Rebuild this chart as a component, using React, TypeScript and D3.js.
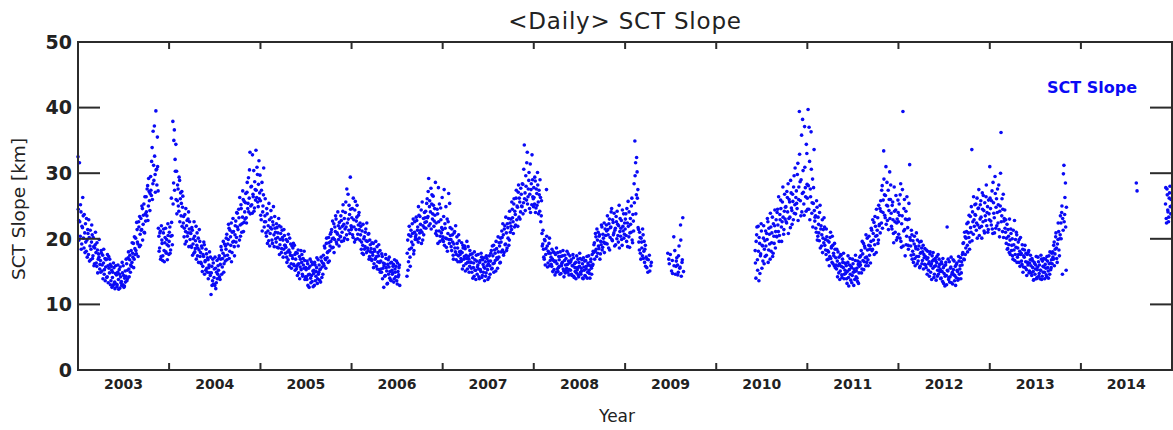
import React from "react";
import * as d3 from "d3";

// ---- Data: SCT Slope [km]. Each segment = start date + readings every 3 days ----
const STEP_DAYS = 3;

const sct2003 = [32.5, 22.8, 31.6, 20.4, 24.1, 19.2, 21.7, 23.5, 18.6, 20.9,
  22.3, 18.1, 19.8, 21.4, 17.6, 20.2, 18.9, 16.8, 19.5, 20.6,
  17.4, 18.8, 16.2, 19.1, 17.9, 15.8, 18.3, 16.9, 17.2, 15.4,
  16.7, 18.2, 15.1, 17.5, 16.3, 14.6, 17.0, 15.7, 16.9, 14.2, 15.9, 17.3, 14.8, 16.1,
  13.6, 15.2, 14.1, 12.9, 15.6, 13.4, 14.7, 13.1, 12.7, 14.9, 13.8, 15.3, 12.5, 14.2, 13.5, 16.4, 13.0, 14.4, 12.8, 15.1,
  14.3, 16.2, 13.9, 17.1, 15.4, 16.8, 14.9,
  18.2, 16.4, 17.8, 19.3, 16.9, 18.5,
  20.1, 17.7, 21.4, 19.2, 22.6, 18.8, 20.7,
  23.1, 21.4, 24.6, 22.2, 25.3, 20.9, 23.8,
  26.4, 23.5, 28.1, 25.0, 27.2, 24.3,
  29.5, 26.6, 33.9, 28.4, 31.2, 37.2, 29.8, 39.5,
  30.6, 35.5, 27.3,
  20.4, 18.6, 21.2, 17.3, 19.8, 16.7, 20.9, 18.2, 19.4, 21.6, 17.8, 19.1, 22.3, 18.9];
const sct2003b = [24.5, 19.8, 22.6, 25.2, 18.4, 21.9, 26.3, 20.1, 23.7, 17.9,
  19.5, 23.1, 17.2, 20.8, 22.9, 16.6, 21.3, 18.4, 22.1, 17.0,
  20.2, 15.9, 18.6, 21.0, 16.3, 19.4, 14.8, 17.7, 19.9, 16.1,
  14.9, 17.8, 16.0, 13.9, 18.4, 15.3, 13.6, 16.8, 14.1, 17.6, 13.3, 15.5, 16.9, 13.0,
  15.8, 12.6, 14.9, 16.3, 13.2, 12.4, 15.9, 14.5, 13.0, 16.0, 12.3, 14.6, 15.7, 13.3, 12.9, 14.8, 15.9, 12.6, 14.0, 13.4,
  16.9, 13.6, 15.2, 18.0, 14.2, 17.5, 16.0,
  15.8, 19.4, 17.2, 15.6, 20.3, 17.6,
  18.2, 22.5, 19.5, 17.3, 21.8, 23.4, 19.0,
  21.3, 25.0, 19.8, 23.6, 21.0, 26.4, 22.7,
  24.1, 27.6, 22.8, 29.2, 25.8, 26.9,
  27.4, 31.8, 26.0, 36.4, 28.9, 32.6, 27.1, 30.5,
  28.2, 31.0, 21.6,
  18.1, 20.9, 16.9, 22.0, 19.3, 17.4, 21.5, 16.5, 20.2, 18.0, 19.9, 16.8, 20.5, 17.6];

const sct2004 = [19.6, 21.8, 18.3, 26.2, 20.5,
  37.9, 28.5, 36.6, 32.1, 34.4,
  30.3, 25.8, 27.6, 24.2, 28.9, 26.1, 23.5, 27.2, 24.8,
  22.4, 20.3, 23.7, 21.1, 19.6, 22.8, 20.9, 24.1, 21.5, 19.9,
  20.8, 18.7, 21.3, 19.2, 17.8, 20.4, 18.5, 21.9, 19.0, 17.4, 20.1, 18.3, 19.6,
  17.9, 16.2, 18.6, 15.8, 17.3, 19.1, 16.5, 15.2, 17.7, 14.9, 16.8, 15.6, 18.0, 14.4,
  11.5, 15.8, 13.6, 16.3, 14.1, 12.9, 15.5, 13.3, 16.7, 14.6,
  15.2, 17.4, 13.8, 16.9, 18.3, 15.7, 17.8, 14.9, 19.2, 16.6,
  18.4, 20.7, 17.5, 19.9, 21.6, 18.1, 20.3, 22.4, 17.9, 19.5, 21.1, 18.8, 20.6,
  22.7, 20.2, 23.9, 21.4, 24.5, 19.8, 22.1, 25.2, 21.0, 23.3, 26.0, 22.5, 24.1,
  25.5, 23.2, 27.1, 24.6, 29.3, 26.2, 33.2, 25.0, 28.0, 23.9, 26.8, 30.4, 24.7, 27.5,
  33.5, 26.3, 29.8, 24.9, 31.9, 27.0];
const sct2004b = [21.0, 17.8, 20.4, 22.5, 19.1,
  25.3, 35.0, 27.4, 30.3, 26.0,
  23.8, 28.2, 25.0, 29.4, 22.6, 27.0, 25.4, 21.9, 26.5,
  23.4, 21.6, 19.2, 24.6, 22.0, 20.4, 23.0, 18.8, 22.6, 20.9,
  18.9, 21.7, 17.5, 20.0, 22.6, 18.0, 19.7, 16.9, 20.9, 18.6, 16.4, 21.4, 17.3,
  16.4, 18.9, 15.0, 17.6, 19.5, 14.6, 16.7, 18.4, 15.5, 17.1, 13.9, 16.0, 14.8, 17.2,
  14.8, 12.9, 16.9, 13.1, 15.4, 17.2, 12.4, 14.9, 13.9, 15.9,
  17.0, 14.2, 16.1, 18.8, 14.6, 17.0, 19.6, 16.2, 17.4, 18.9,
  20.1, 16.8, 19.2, 22.2, 17.0, 21.3, 19.0, 16.5, 21.0, 23.1, 19.6, 17.4, 22.0,
  19.5, 24.0, 21.8, 18.9, 23.2, 26.3, 20.4, 24.6, 22.3, 27.3, 21.1, 25.7, 23.0,
  26.9, 22.4, 28.6, 25.4, 24.1, 30.5, 23.8, 27.9, 25.2, 32.8, 26.4, 24.2, 28.7, 25.9,
  27.4, 30.9, 25.6, 28.3, 26.1, 29.7];

const sct2005 = [25.8, 22.9, 28.6, 24.1, 26.7, 21.8, 23.5,
  22.6, 20.4, 23.8, 21.2, 19.7, 22.9, 20.8, 24.3, 21.5, 19.3, 22.1, 20.6, 23.4, 21.0,
  19.5, 21.7, 20.2, 18.6, 22.0, 19.1, 20.8, 17.9, 21.3, 19.8, 18.4, 20.5, 19.0,
  18.7, 17.2, 19.6, 16.8, 18.3, 20.1, 17.5, 16.2, 18.9, 17.0, 19.3, 15.9, 17.6,
  16.9, 15.4, 17.8, 16.1, 14.8, 17.3, 15.7, 18.2, 16.4, 14.6, 17.0, 15.5, 16.7, 14.2,
  15.3, 13.8, 16.2, 14.5, 12.6, 15.8, 14.0, 16.5, 13.5, 15.1, 14.7, 12.9, 16.0, 14.3, 15.6, 13.2, 16.8, 14.9, 13.7, 15.4, 17.2, 14.1, 16.3,
  17.5, 15.9, 18.6, 16.8, 19.3, 17.1, 18.0, 20.2, 16.6, 18.9,
  19.6, 21.4, 20.0, 18.7, 22.3, 19.9, 21.1, 23.0, 19.2, 20.7, 22.0, 18.9, 21.6,
  20.3, 22.8, 21.0, 24.2, 19.7, 23.1, 21.5, 25.6, 20.6, 22.4, 26.8, 21.3, 23.7, 29.4, 22.0];
const sct2005b = [23.6, 27.4, 21.2, 25.0, 30.8, 22.6, 26.1,
  20.9, 24.6, 19.3, 22.0, 25.4, 18.9, 21.7, 23.2, 19.8, 22.6, 24.9, 18.8, 21.6, 20.0,
  22.3, 18.7, 20.9, 23.1, 17.6, 19.9, 21.8, 18.5, 20.2, 17.2, 21.4, 19.0, 17.8,
  19.9, 16.4, 18.0, 20.7, 15.8, 17.9, 19.2, 15.5, 17.4, 18.6, 16.1, 19.0, 15.2,
  17.9, 15.8, 14.4, 18.3, 16.2, 13.9, 16.9, 15.3, 17.6, 14.3, 16.0, 18.1, 13.8, 15.6,
  14.2, 16.6, 12.9, 15.5, 14.6, 16.9, 13.3, 14.4, 16.1, 12.7, 15.2, 16.4, 13.6, 15.0, 17.1, 13.9, 14.6, 16.0, 15.3, 13.4, 16.6, 15.7, 14.6,
  16.2, 18.9, 17.0, 15.5, 20.1, 17.9, 16.4, 19.4, 18.2, 20.7,
  21.0, 18.6, 22.7, 20.1, 17.9, 21.8, 23.5, 19.5, 20.9, 24.1, 19.9, 22.5, 20.4,
  23.5, 19.6, 21.9, 25.2, 22.2, 20.1, 24.0, 21.8, 27.6, 19.9, 23.0, 25.1, 20.8, 24.5, 21.4];

const sct2006 = [21.8, 24.6, 20.2, 22.9, 19.5, 25.7, 21.4, 23.3, 20.0, 22.1, 24.0, 19.8,
  20.6, 18.4, 21.2, 19.0, 17.6, 20.3, 18.8, 21.5, 17.9, 19.6, 18.2, 20.8, 17.3, 19.1,
  18.5, 16.7, 17.9, 19.3, 16.2, 18.1, 17.0, 15.8, 18.8, 16.5, 17.4, 15.3, 18.2,
  16.6, 14.9, 17.3, 15.5, 12.6, 16.2, 14.4, 17.0, 15.1, 13.2, 16.8, 15.7, 14.0, 16.3, 13.6, 15.2,
  14.8, 16.1, 13.9, 15.4, 14.2, 16.6, 13.1, 15.0, 14.5, 16.0,
  null, null, null, null, null, null, null, null, null,
  14.3, 19.8, 16.5, 21.9, 17.2, 20.4, 18.6, 22.3, 19.1, 17.7, 21.0, 19.9,
  20.6, 22.8, 21.3, 19.5, 23.6, 20.9, 22.2, 24.4, 21.0, 19.8, 23.1, 21.7, 22.5,
  24.2, 22.6, 26.1, 23.4, 29.2, 24.9, 22.3, 27.7, 25.3, 23.0, 26.5, 21.9, 24.6, 28.6,
  22.4, 20.5, 23.8, 27.8, 21.2, 19.6, 24.7, 20.9, 26.3];
const sct2006b = [23.2, 20.6, 26.2, 21.8, 24.4, 19.9, 22.7, 25.1, 20.7, 23.6, 21.4, 22.4,
  21.9, 19.5, 17.8, 22.2, 20.0, 18.4, 21.0, 19.7, 22.4, 18.6, 20.7, 16.9, 19.8, 18.0,
  16.9, 19.4, 17.5, 15.6, 18.4, 16.9, 19.6, 17.3, 15.4, 17.9, 19.1, 16.4, 14.9,
  15.4, 17.7, 13.9, 16.3, 15.9, 14.3, 17.6, 15.6, 13.1, 16.1, 14.6, 17.2, 15.0, 13.7, 16.4, 14.6,
  15.8, 13.4, 16.8, 14.9, 15.8, 13.6, 16.3, 14.2, 15.6, 12.9,
  null, null, null, null, null, null, null, null, null,
  17.8, 15.2, 20.6, 18.4, 15.8, 21.3, 19.5, 20.8, 23.0, 18.2, 22.6, 20.3,
  23.3, 19.9, 21.8, 24.9, 20.1, 23.4, 21.3, 19.3, 25.6, 22.0, 20.6, 24.0, 23.2,
  21.6, 25.4, 23.2, 27.2, 22.0, 25.8, 24.1, 21.5, 26.7, 23.8, 25.1, 22.7, 23.6, 20.8,
  21.2, 24.5, 19.3, 22.6, 25.3, 20.4, 22.9, 21.7, 19.9];

const sct2007 = [21.4, 19.6, 27.5, 22.3, 20.1, 18.7, 23.0, 20.8, 26.9, 19.3, 21.7,
  19.9, 18.2, 20.6, 17.5, 19.2, 21.1, 18.0, 16.8, 20.3, 18.6, 17.4, 19.7, 16.5,
  18.1, 16.6, 17.9, 19.0, 15.9, 17.3, 18.5, 16.2, 17.0, 15.4, 18.8, 16.9, 15.8, 17.6,
  16.4, 14.9, 17.1, 15.6, 14.3, 16.8, 15.2, 17.5, 14.6, 16.0, 15.4, 13.9, 16.7, 15.0, 17.2, 14.4, 16.1, 15.7, 13.6, 16.5, 14.8, 17.0, 15.3, 16.2, 14.1, 15.9,
  16.6, 18.2, 15.5, 17.4, 19.0, 16.3, 17.8, 15.1, 18.5, 16.9, 20.3, 17.2, 18.9, 16.4,
  19.5, 21.2, 18.3, 20.6, 17.9, 22.0, 19.2, 20.9, 18.6, 21.7, 23.1, 19.8, 22.4,
  23.0, 21.4, 24.5, 22.6, 25.3, 21.8, 23.7, 26.2, 22.9, 24.8, 27.1, 23.3, 25.6, 24.1,
  26.8, 24.9, 28.3, 25.5, 34.3, 27.0, 29.6, 25.9, 33.2, 26.4, 28.9, 24.6, 31.4, 27.5, 25.2, 29.0, 26.1];
const sct2007b = [20.3, 23.4, 19.0, 21.6, 24.9, 20.0, 18.1, 22.6, 19.9, 25.4, 20.5,
  18.8, 21.5, 19.5, 16.9, 20.9, 18.6, 22.0, 17.6, 19.3, 16.5, 20.6, 18.0, 17.6,
  17.0, 19.4, 15.4, 18.6, 16.9, 18.9, 15.1, 17.5, 19.6, 16.4, 17.3, 14.9, 18.2, 16.4,
  15.5, 17.7, 14.0, 16.3, 18.0, 15.2, 13.8, 16.6, 15.7, 17.6, 14.2, 16.4, 15.3, 17.8, 14.1, 16.8, 14.9, 17.1, 15.5, 14.3, 17.4, 15.9, 13.8, 16.6, 17.4, 14.6,
  17.8, 15.4, 18.9, 16.2, 14.9, 18.3, 16.7, 19.6, 17.1, 15.5, 18.0, 19.4, 16.3, 20.1,
  18.0, 20.2, 22.3, 17.5, 21.5, 19.1, 23.3, 18.2, 22.3, 20.1, 19.0, 24.2, 21.0,
  21.9, 25.6, 23.2, 20.8, 26.1, 24.2, 22.1, 27.4, 25.0, 21.9, 28.2, 26.2, 23.0, 27.7,
  25.0, 28.4, 23.8, 30.6, 26.1, 24.3, 28.0, 31.6, 25.3, 27.6, 30.1, 26.8, 24.0, 28.4, 32.8, 26.4, 24.9];

const sct2008 = [27.8, 25.3, 28.8, 24.7, 26.9, 30.1, 25.6, 27.4, 24.2, 26.3, 23.5, 20.8, 19.2,
  18.4, 16.9, 19.7, 17.6, 27.5, 18.9, 16.3, 17.8, 20.1, 16.7,
  17.2, 15.8, 16.9, 18.0, 15.3, 16.5, 17.6, 14.9, 16.2, 17.9, 15.6, 16.8, 14.6, 17.3, 15.9, 16.4, 18.2, 15.1, 16.7, 14.8, 17.0, 15.5, 16.1, 17.7, 14.5, 16.3,
  15.2, 16.8, 14.4, 15.9, 17.1, 14.1, 15.6, 16.4, 14.8, 15.3, 16.9, 14.2, 15.8, 17.0, 14.6, 15.1, 16.2, 13.9, 15.7, 16.6, 14.3, 15.4, 17.3, 14.9, 16.0, 15.2, 14.0, 16.5, 15.5, 17.6, 16.1,
  17.9, 19.4, 18.1, 20.3, 17.3, 19.8, 21.0, 18.5, 20.6, 17.7, 19.1, 21.8, 18.7, 20.1, 22.4, 19.3,
  20.5, 22.1, 19.2, 21.4, 18.6, 23.0, 20.2, 21.8, 24.6, 19.7, 22.5, 20.9, 18.9, 21.6, 23.4, 20.0, 22.2, 19.5, 25.1, 21.1, 20.4, 22.8, 19.0, 21.9, 23.8, 20.7];
const sct2008b = [26.3, 29.4, 24.0, 27.6, 25.1, 28.2, 23.8, 26.7, 29.0, 22.6, 25.8, 18.9, 21.3,
  17.2, 19.9, 16.0, 18.5, 20.4, 15.7, 18.1, 19.3, 15.9, 17.8,
  16.1, 18.4, 15.0, 16.7, 17.9, 14.5, 16.6, 18.6, 15.4, 15.0, 17.3, 15.8, 18.0, 14.7, 16.2, 17.4, 15.4, 14.2, 17.5, 16.0, 15.2, 18.1, 14.9, 16.6, 15.3, 17.4,
  16.5, 14.6, 15.9, 17.6, 14.3, 16.2, 15.0, 13.9, 17.4, 15.6, 14.5, 16.4, 17.8, 14.9, 15.5, 16.8, 14.0, 17.1, 15.2, 14.4, 16.7, 15.8, 14.0, 16.3, 17.4, 14.7, 15.9, 16.9, 14.6, 15.9, 18.1,
  19.1, 16.9, 20.8, 18.4, 21.5, 17.8, 18.9, 20.4, 16.9, 19.6, 22.1, 18.3, 20.7, 19.5, 17.9, 21.5,
  19.3, 21.2, 23.5, 20.6, 22.3, 18.3, 21.7, 24.1, 19.9, 22.9, 20.6, 23.9, 21.3, 19.1, 22.6, 24.2, 20.5, 22.0, 18.6, 23.1, 21.6, 19.9, 24.4, 21.2, 20.1, 22.4];

const sct2009a = [21.5, 23.8, 19.6, 22.4, 25.7, 20.3, 18.7, 23.1, 21.0, 26.2, 19.4, 22.7,
  28.4, 34.9, 31.6, 26.7, 30.2, 27.5,
  21.4, 18.3, 20.2, 16.9, 19.5, 17.4, 20.6, 18.1, 16.4, 19.0,
  17.2, 15.6, null, 16.8, null, 15.1, null, 16.4];
const sct2009a2 = [23.0, 20.5, 24.6, 18.8, 21.9, 24.1, 20.9, 22.2, 25.0, 19.8, 23.7, 21.2,
  25.5, 29.6, 23.8, 32.4, 26.2, 21.7,
  19.5, 21.0, 17.8, 20.1, 18.6, 21.5, 17.0, 19.6, 18.4, 15.8,
  null, 16.9, 14.9, null, 17.5, null, 15.9];
const sct2009b = [17.8, null, 16.2, null, null, 15.1, 16.7, null, 20.3, null, 14.6, 15.8, 17.1, 16.0, 14.9, 18.9, 15.5, 22.1, 14.3, 16.4, 23.2, 15.0];
const sct2009b2 = [null, 16.9, null, 17.6, null, null, 14.7, null, 15.9, 18.2, null, 16.6, null, 14.5, 17.4, null, 15.7, 19.8, null, 16.8];

const sct2010 = [18.2, 14.0, 20.6, 16.8, 21.9, 13.6, 19.3, 17.4, 22.3, 15.5, 18.9, 20.1, 16.2, 19.7,
  21.2, 17.5, 19.9, 22.6, 18.3, 20.7, 16.9, 21.8, 19.4, 23.3, 17.8, 20.4, 22.0, 18.6,
  22.9, 20.3, 24.5, 21.1, 19.6, 23.7, 25.9, 21.8, 22.6, 27.9, 20.7, 24.2, 23.0,
  24.9, 22.4, 26.3, 28.4, 23.1, 25.6, 21.7, 27.0, 24.3, 26.8, 22.9, 29.6, 25.2, 23.8,
  27.3, 24.6, 31.5, 26.0, 39.4, 28.7, 23.5, 35.8, 26.9, 30.4, 25.3, 37.1, 27.8, 24.2, 33.0];
const sct2010b = [16.3, 19.6, 21.8, 15.2, 18.1, 20.2, 14.7, 17.7, 21.2, 19.0, 16.6, 22.0, 18.4, 17.3,
  18.9, 20.8, 23.1, 16.4, 21.6, 19.2, 23.9, 18.1, 20.9, 17.3, 22.3, 19.3, 24.4, 21.1,
  20.4, 24.0, 22.1, 26.4, 20.5, 22.9, 24.6, 19.6, 25.6, 23.3, 21.4, 26.8, 24.8,
  22.6, 27.2, 24.1, 20.8, 26.0, 23.3, 28.9, 24.7, 22.2, 25.7, 27.9, 23.9, 30.8, 26.3,
  25.4, 29.8, 22.8, 27.9, 32.9, 25.8, 29.0, 24.1, 38.2, 27.1, 23.6, 30.9, 26.4, 34.4, 28.3];

const sct2011 = [26.2, 39.7, 24.5, 31.8, 27.6, 36.3, 23.9, 29.1, 25.4, 33.6, 22.7,
  23.5, 21.0, 24.8, 20.4, 22.2, 19.7, 25.1, 21.5, 18.9, 22.9, 20.1, 19.4, 21.8,
  19.9, 17.6, 20.3, 18.2, 16.9, 19.5, 17.3, 21.0, 18.6, 16.4, 19.0, 17.8, 15.9, 18.4,
  17.1, 15.4, 16.6, 18.0, 14.8, 16.2, 15.1, 17.5, 14.5, 16.9, 15.6, 13.9, 16.3,
  14.7, 15.9, 13.2, 16.4, 14.1, 15.3, 17.0, 13.7, 15.6, 14.4, 16.2, 12.9, 15.0, 16.7, 14.2, 15.5, 13.5, 16.1, 14.8, 17.2,
  16.0, 18.2, 15.4, 17.7, 19.3, 16.5, 18.6, 15.9, 17.2, 20.1, 16.8, 19.0, 17.5, 18.9,
  19.6, 21.3, 18.4, 20.8, 22.5, 19.1, 21.9, 17.9, 20.5, 23.2, 19.8, 22.0, 24.6,
  25.8, 22.4, 28.1, 24.0, 33.4, 26.7, 23.2, 31.0, 25.1, 22.8, 27.4, 24.3, 30.2, 26.0,
  23.9, 21.5, 25.6, 20.8, 27.9, 22.6, 24.4, 19.8, 23.0, 25.9];
const sct2011b = [24.5, 28.1, 37.0, 22.9, 26.4, 30.6, 25.5, 21.8, 27.8, 24.3, 23.3,
  21.6, 25.8, 19.8, 23.3, 20.9, 24.0, 18.6, 22.0, 20.6, 17.9, 21.4, 23.2, 19.0,
  18.3, 21.5, 16.8, 19.7, 18.0, 15.9, 20.2, 17.0, 18.8, 20.4, 16.2, 17.4, 19.3, 15.6,
  16.0, 18.4, 14.2, 15.9, 17.2, 13.8, 17.6, 15.8, 14.1, 16.4, 17.8, 14.6, 15.2,
  16.2, 13.9, 15.0, 17.4, 12.8, 16.0, 14.6, 15.8, 13.3, 16.9, 14.9, 15.4, 13.8, 17.5, 15.1, 14.0, 16.6, 13.2, 15.8, 16.4,
  17.4, 14.8, 19.6, 16.7, 15.3, 18.9, 17.1, 20.6, 16.4, 18.3, 15.9, 20.4, 18.4, 16.3,
  21.6, 18.2, 22.9, 19.8, 17.6, 23.4, 20.4, 24.5, 21.3, 19.3, 25.1, 22.2, 20.9,
  24.2, 27.4, 21.6, 25.9, 29.1, 23.6, 26.6, 22.2, 28.6, 25.0, 21.4, 26.0, 23.1, 28.2,
  21.9, 25.1, 22.9, 19.4, 24.2, 21.0, 26.6, 22.4, 20.2, 24.0];

const sct2012 = [22.6, 25.3, 20.1, 28.4, 18.7, 23.5, 39.4, 21.2, 26.0, 17.4, 24.2, 20.4, 22.9, 19.0, 25.4, 31.3,
  19.8, 17.5, 20.6, 18.1, 16.4, 19.2, 17.0, 18.8, 20.9, 16.2, 18.4, 17.3, 19.5, 15.8, 17.9, 18.6, 16.7, 19.0, 17.6, 16.1,
  17.3, 15.6, 16.9, 18.1, 15.2, 16.5, 17.7, 14.9, 16.2, 17.4, 15.5, 16.8, 14.6, 17.0, 15.9, 16.4, 14.3, 17.6, 15.7, 16.1,
  15.3, 14.0, 16.2, 13.5, 15.6, 14.7, 12.8, 16.0, 14.4, 21.8, 15.1, 13.8, 16.5, 14.2, 15.7, 13.3, 14.9, 16.8, 14.5, 13.6, 15.8, 14.1, 16.3, 15.0, 13.9, 16.6, 15.4, 17.1, 14.8, 16.0,
  17.9, 19.4, 16.8, 20.3, 18.6, 21.1, 19.0, 22.5, 20.2, 18.4, 23.4, 21.0, 33.6, 24.1, 20.7, 22.9, 25.2,
  23.6, 21.3, 26.2, 22.1, 24.7, 20.5, 23.0, 25.8, 21.9, 27.0, 22.6, 24.3, 20.9, 23.5, 26.4, 22.0, 24.9, 21.4, 23.8];
const sct2012b = [20.7, 23.6, 26.7, 19.6, 22.3, 27.5, 18.9, 24.6, 21.4, 23.0, 19.1, 26.4, 21.7, 18.4, 23.0, 20.2,
  18.9, 21.3, 16.9, 19.7, 17.6, 20.4, 15.9, 18.5, 17.3, 19.8, 16.6, 18.9, 15.6, 17.8, 19.6, 16.2, 18.0, 15.4, 17.1, 18.5,
  16.0, 18.3, 14.6, 17.1, 16.2, 14.3, 18.0, 15.9, 13.8, 16.6, 17.9, 14.1, 15.8, 16.7, 13.7, 17.3, 15.2, 14.6, 16.9, 15.0,
  13.9, 16.5, 15.0, 17.0, 13.2, 15.9, 14.3, 16.4, 13.0, 15.2, 16.9, 14.1, 13.4, 15.5, 17.2, 14.6, 13.1, 15.3, 16.6, 14.4, 12.9, 16.1, 15.2, 13.7, 17.3, 14.6, 15.9, 13.9, 16.5, 17.6,
  19.3, 16.9, 21.0, 17.6, 20.1, 22.3, 18.0, 20.9, 23.6, 19.5, 21.7, 24.9, 19.7, 22.6, 26.4, 21.9, 23.7,
  25.3, 22.4, 20.1, 24.6, 27.5, 21.7, 25.2, 23.3, 20.1, 24.5, 26.6, 21.2, 25.5, 22.8, 28.2, 24.0, 21.0, 25.9, 22.9];

const sct2013 = [31.0, 24.6, 22.1, 27.3, 20.8, 25.5, 23.2, 29.5, 21.6, 26.1, 24.0, 22.4, 28.2, 20.3, 25.0, 36.2, 23.5, 21.1, 26.8, 22.7, 24.4,
  21.0, 19.3, 22.2, 18.5, 20.4, 17.9, 19.8, 21.5, 18.2, 20.0, 16.9, 19.1, 22.8, 17.6, 18.7, 20.6, 17.2, 19.5, 16.4, 18.1, 20.2,
  17.8, 16.1, 18.4, 15.7, 17.2, 19.0, 16.5, 15.3, 17.6, 16.0, 18.2, 15.1, 16.8,
  15.9, 14.4, 16.7, 15.0, 13.8, 16.2, 15.4, 17.3, 14.1, 15.7, 16.5, 14.7, 13.9, 15.2, 16.9, 14.3, 15.8, 17.0, 14.9, 16.1, 15.5, 14.2, 16.6, 15.1, 17.4, 14.6, 16.3, 15.6, 17.8,
  18.0, 16.9, 19.5, 17.7, 20.3, 18.6, 16.4, 19.9, 21.1, 17.4, 20.6,
  22.4, 24.0, 14.6, 21.3, 31.2, 23.7, 28.5, 15.2];
const sct2013b = [26.2, 22.7, 25.8, 21.5, 28.6, 23.9, 20.9, 26.9, 24.8, 22.0, 27.6, 25.2, 21.4, 24.2, 30.0, 22.6, 26.1, 24.5, 20.2, 23.1, 21.6,
  22.9, 20.1, 18.4, 21.4, 19.1, 23.0, 17.6, 20.8, 19.0, 17.4, 21.3, 18.3, 16.7, 19.9, 21.0, 16.4, 18.6, 17.6, 19.9, 15.8, 17.6,
  16.6, 19.1, 14.9, 17.4, 18.3, 15.6, 17.8, 14.4, 16.4, 17.9, 14.8, 16.3, 17.5,
  14.8, 17.0, 15.6, 13.7, 16.4, 14.6, 16.0, 13.9, 15.3, 17.2, 14.3, 16.0, 15.2, 17.5, 13.8, 16.6, 14.9, 15.7, 13.9, 16.9, 14.5, 17.3, 15.6, 14.0, 16.2, 18.0, 15.3, 16.8, 16.2,
  17.2, 19.0, 15.9, 18.4, 20.9, 17.0, 19.2, 22.4, 18.3, 20.0, 23.5,
  20.0, 25.0, 23.1, 29.9, 22.6, 26.3, 21.8, 24.8];

const sct2014a = [28.5, 27.3];
const sct2014b = [25.3, 23.1, 27.6, 24.4, 22.6, 26.2, 28.0, 23.8, 25.0];
const sct2014c = [27.8, 22.4, 26.7, 24.1, 23.3, 27.0, 24.9, 26.0];

const segmentStarts = [
  "2003-01-01", "2003-01-02", "2004-01-01", "2004-01-02", "2005-01-01", "2005-01-02",
  "2006-01-01", "2006-01-02", "2007-01-01", "2007-01-02", "2008-01-01", "2008-01-02",
  "2009-01-01", "2009-01-02", "2009-06-21", "2009-06-22", "2010-06-06", "2010-06-07",
  "2011-01-01", "2011-01-02", "2012-01-01", "2012-01-02", "2013-01-01", "2013-01-02",
  "2014-08-11", "2014-12-06", "2014-12-07"];
const segmentValues = [
  sct2003, sct2003b, sct2004, sct2004b, sct2005, sct2005b,
  sct2006, sct2006b, sct2007, sct2007b, sct2008, sct2008b,
  sct2009a, sct2009a2, sct2009b, sct2009b2, sct2010, sct2010b,
  sct2011, sct2011b, sct2012, sct2012b, sct2013, sct2013b,
  sct2014a, sct2014b, sct2014c];

const yearLabels = ["2003", "2004", "2005", "2006", "2007", "2008", "2009", "2010", "2011", "2012", "2013", "2014"];
const yTicks = [0, 10, 20, 30, 40, 50];

// ---- Layout ----
const W = 1173, H = 430;
const L = 78, R = 1172, T = 42, B = 370;
const BLUE = "#0a0af5";
const AXIS = "#2b2b2b";
const FONT = "'DejaVu Sans', Verdana, sans-serif";

export default function App() {
  const parse = d3.timeParse("%Y-%m-%d");
  const x = d3.scaleTime().domain([new Date(2003, 0, 1), new Date(2015, 0, 1)]).range([L, R]);
  const y = d3.scaleLinear().domain([0, 50]).range([B, T]);

  const points: { d: Date; v: number }[] = [];
  segmentStarts.forEach((s, k) => {
    const start = parse(s) as Date;
    segmentValues[k].forEach((v, i) => {
      if (v == null) return;
      points.push({ d: d3.timeDay.offset(start, i * STEP_DAYS), v: v as number });
    });
  });

  const yearTicks = d3.timeYear.range(new Date(2004, 0, 1), new Date(2015, 0, 1));

  return (
    <svg width={W} height={H} style={{ position: "absolute", left: 0, top: 0, background: "#fff" }}>
      <text x={625} y={29} textAnchor="middle" fontFamily={FONT} fontSize={23} letterSpacing={0.8} fill="#222">{"<Daily> SCT Slope"}</text>

      {points.map((p, i) => (
        <circle key={i} cx={x(p.d)} cy={y(p.v)} r={1.8} fill={BLUE} />
      ))}

      <rect x={L} y={T} width={R - L} height={B - T} fill="none" stroke={AXIS} strokeWidth={2} />

      {yTicks.map((t) => (
        <g key={t}>
          <line x1={L} x2={L + 22} y1={y(t)} y2={y(t)} stroke={AXIS} strokeWidth={2} />
          <line x1={R - 22} x2={R} y1={y(t)} y2={y(t)} stroke={AXIS} strokeWidth={2} />
          <text x={72} y={y(t)} dy="0.36em" textAnchor="end" fontFamily={FONT} fontWeight="bold" fontSize={19} fill="#222">{t}</text>
        </g>
      ))}

      {yearTicks.map((d, i) => (
        <g key={i}>
          <line x1={x(d)} x2={x(d)} y1={B} y2={B - 7} stroke={AXIS} strokeWidth={2} />
          <line x1={x(d)} x2={x(d)} y1={T} y2={T + 7} stroke={AXIS} strokeWidth={2} />
        </g>
      ))}

      {yearLabels.map((lab) => (
        <text key={lab} x={x(new Date(+lab, 6, 2))} y={389} textAnchor="middle" fontFamily={FONT} fontWeight="bold" fontSize={14} fill="#222">{lab}</text>
      ))}

      <text x={617} y={422} textAnchor="middle" fontFamily={FONT} fontSize={17} fill="#222">Year</text>
      <text transform={`translate(25,209) rotate(-90)`} textAnchor="middle" fontFamily={FONT} fontSize={18.5} fill="#222">SCT Slope [km]</text>

      <text x={1047} y={93} fontFamily={FONT} fontWeight="bold" fontSize={16} fill={BLUE}>SCT Slope</text>
    </svg>
  );
}
